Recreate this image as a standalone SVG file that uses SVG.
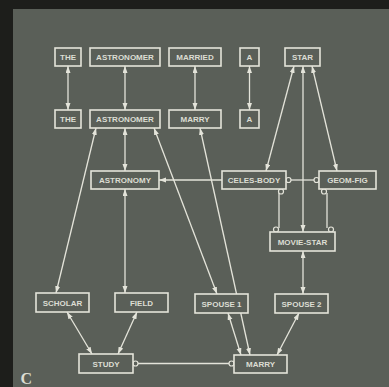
<svg xmlns="http://www.w3.org/2000/svg" width="389" height="387" viewBox="0 0 389 387">
<style>
.n rect{fill:#5a5f58;stroke:#e4e4da;stroke-width:1.6}
.n text{font-family:"Liberation Sans",Arial,sans-serif;font-weight:bold;font-size:8px;fill:#dcddd3;text-anchor:middle}
.c line,.c path{stroke:#e4e4da;stroke-width:1.3;fill:none}
.a{marker-start:url(#ah);marker-end:url(#ah)}
.e{marker-end:url(#ah)}
.t circle{fill:#5a5f58;stroke:#e4e4da;stroke-width:1.2}
</style>
<defs>
<marker id="ah" markerUnits="userSpaceOnUse" markerWidth="8" markerHeight="6" refX="7" refY="2.5" orient="auto-start-reverse">
<path d="M0,0 L7,2.5 L0,5 z" fill="#e4e4da"/>
</marker>
</defs>
<rect x="0" y="0" width="389" height="387" fill="#1d1e1b"/>
<rect x="13" y="9" width="376" height="378" fill="#5a5f58"/>
<g class="c" id="connectors">
<line class="a" x1="68" y1="66" x2="68" y2="110"/>
<line class="a" x1="125" y1="66" x2="125" y2="110"/>
<line class="a" x1="195" y1="66" x2="195" y2="110"/>
<line class="a" x1="249.5" y1="66" x2="249.5" y2="110"/>
<line class="a" x1="125" y1="128" x2="125" y2="171"/>
<line class="a" x1="125" y1="189" x2="125" y2="293"/>
<line class="a" x1="96" y1="128" x2="56" y2="293"/>
<line class="a" x1="154" y1="128" x2="217" y2="294"/>
<line class="a" x1="200" y1="128" x2="250" y2="355"/>
<line class="a" x1="228" y1="313" x2="241" y2="355"/>
<line class="a" x1="299" y1="313" x2="277" y2="355"/>
<line class="a" x1="67" y1="312" x2="92" y2="354"/>
<line class="a" x1="137" y1="312" x2="118" y2="354"/>
<line x1="136" y1="363.5" x2="231" y2="363.5"/>
<line class="e" x1="222" y1="180" x2="159" y2="180"/>
<line x1="289" y1="180" x2="316" y2="180"/>
<line class="a" x1="294" y1="66" x2="266" y2="171"/>
<line class="a" x1="312" y1="66" x2="337" y2="171"/>
<line class="a" x1="303" y1="66" x2="303" y2="232"/>
<line x1="279" y1="193" x2="279" y2="228"/>
<line x1="327" y1="193" x2="327" y2="228"/>
<line class="a" x1="303" y1="251" x2="303" y2="294"/>
<g class="t">
<circle cx="135.5" cy="363.5" r="2.5"/>
<circle cx="231.5" cy="363.5" r="2.5"/>
<circle cx="288.5" cy="180" r="2.5"/>
<circle cx="316.5" cy="180" r="2.5"/>
<circle cx="281" cy="191.5" r="2.5"/>
<circle cx="276" cy="229.5" r="2.5"/>
<circle cx="324" cy="191.5" r="2.5"/>
<circle cx="331" cy="229.5" r="2.5"/>
</g>
</g>
<g class="n" id="the1"><rect x="55" y="48" width="26" height="18"/><text x="68" y="60">THE</text></g>
<g class="n" id="astronomer1"><rect x="90" y="48" width="70" height="18"/><text x="125" y="60">ASTRONOMER</text></g>
<g class="n" id="married"><rect x="169" y="48" width="52" height="18"/><text x="195" y="60">MARRIED</text></g>
<g class="n" id="a1"><rect x="240" y="48" width="19" height="18"/><text x="249.5" y="60">A</text></g>
<g class="n" id="star"><rect x="285" y="48" width="35" height="18"/><text x="302.5" y="60">STAR</text></g>
<g class="n" id="the2"><rect x="55" y="110" width="26" height="18"/><text x="68" y="122">THE</text></g>
<g class="n" id="astronomer2"><rect x="90" y="110" width="70" height="18"/><text x="125" y="122">ASTRONOMER</text></g>
<g class="n" id="marry2"><rect x="169" y="110" width="52" height="18"/><text x="195" y="122">MARRY</text></g>
<g class="n" id="a2"><rect x="240" y="110" width="19" height="18"/><text x="249.5" y="122">A</text></g>
<g class="n" id="astronomy"><rect x="91" y="171" width="68" height="18"/><text x="125" y="183">ASTRONOMY</text></g>
<g class="n" id="celes-body"><rect x="222" y="171" width="64" height="18"/><text x="254" y="183">CELES-BODY</text></g>
<g class="n" id="geom-fig"><rect x="319" y="171" width="57" height="18"/><text x="347.5" y="183">GEOM-FIG</text></g>
<g class="n" id="movie-star"><rect x="270" y="232" width="65" height="19"/><text x="302.5" y="244.5">MOVIE-STAR</text></g>
<g class="n" id="scholar"><rect x="36" y="293" width="53" height="19"/><text x="62.5" y="305.5">SCHOLAR</text></g>
<g class="n" id="field"><rect x="115" y="293" width="53" height="19"/><text x="141.5" y="305.5">FIELD</text></g>
<g class="n" id="spouse1"><rect x="195" y="294" width="53" height="19"/><text x="221.5" y="306.5">SPOUSE 1</text></g>
<g class="n" id="spouse2"><rect x="275" y="294" width="53" height="19"/><text x="301.5" y="306.5">SPOUSE 2</text></g>
<g class="n" id="study"><rect x="79" y="354" width="54" height="19"/><text x="106" y="366.5">STUDY</text></g>
<g class="n" id="marry3"><rect x="234" y="355" width="53" height="18"/><text x="260.5" y="367">MARRY</text></g>
<text x="20.5" y="384" font-family="Liberation Serif,serif" font-weight="bold" font-size="16" fill="#dcddd3">C</text>
</svg>
